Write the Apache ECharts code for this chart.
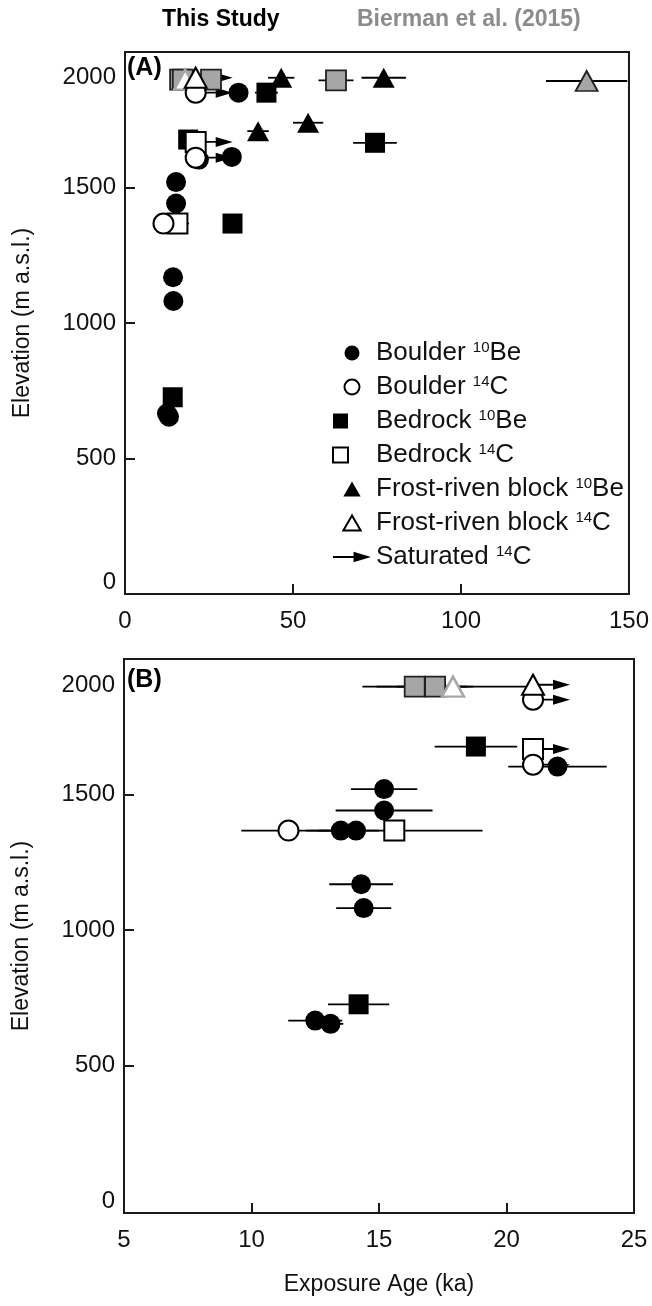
<!DOCTYPE html>
<html><head><meta charset="utf-8">
<script src="https://cdn.jsdelivr.net/npm/echarts@6/dist/echarts.min.js"></script>
<style>html,body{margin:0;padding:0;background:#fff}#c{width:652px;height:1306px}</style>
</head><body><div id="c"></div>
<script>
// ---- data: [age ka, elevation m, ±error ka] ----
const boulderBe = [[15.2,1520,1.3],[15.2,1441,1.9],[13.5,1367,0.9],[14.1,1367,0.9],[14.3,1169,1.25],[14.4,1081,1.08],[12.5,666,1.06],[13.1,654,0.5],[22.0,1603,1.93],[31.8,1613,2.0],[33.8,1850,2.0]];
const boulderC  = [[11.45,1367,1.85],[21.04,1850,0],[21.04,1610,0]];
const bedrockBe = [[14.2,726,1.2],[18.8,1677,1.62],[32.0,1367,1.5],[42.1,1850,3.4],[74.4,1665,6.5]];
const bedrockC  = [[15.6,1367,3.46],[21.04,1668,0]];
const frostBe   = [[46.5,1905,3.9],[77.0,1905,6.6],[39.6,1708,3.2],[54.5,1739,4.5]];
const frostC    = [[21.04,1905,0]];
const saturated = [[21.04,1905],[21.04,1850],[21.04,1668],[21.04,1610]];
// Bierman et al. (2015)
const biermanBedrockBe = [[16.4,1898,2.05],[17.2,1898,1.5],[25.6,1898,0.4],[62.8,1895,5.2]];
const biermanFrostBe   = [[137.4,1893,12.1]];
const biermanFrostC    = [[17.9,1898,3.0]];
// axes
const xLabelsA = [0,50,100,150];
const xLabelsB = [5,10,15,20,25];
const yLabels  = [0,500,1000,1500,2000];

const F = "'Liberation Sans', Arial, Helvetica, sans-serif";
const TXT = '#111';
const TRI = 'path://M9,0L18,15.6L0,15.6Z';
const ARROW = 'path://M0,4.1H20V0L37,5L20,10V5.9H0Z';

function errSeries(data, gi){
  return {type:'custom', xAxisIndex:gi, yAxisIndex:gi, z:1, silent:true,
    data: data.filter(d=>d[2]>0),
    renderItem(params, api){
      const x=api.value(0), y=api.value(1), e=api.value(2);
      const p1=api.coord([x-e,y]), p2=api.coord([x+e,y]);
      const cs=params.coordSys;
      const x1=Math.max(p1[0],cs.x), x2=Math.min(p2[0],cs.x+cs.width);
      if (x2<=x1 || p1[1]<cs.y || p1[1]>cs.y+cs.height) return;
      return {type:'line', shape:{x1:x1,y1:p1[1],x2:x2,y2:p1[1]}, style:{stroke:'#000', lineWidth:1.8}};
    }};
}
function sc(name, data, gi, symbol, size, style, z){
  return {type:'scatter', name:name, xAxisIndex:gi, yAxisIndex:gi, z:z,
    data:data.map(d=>[d[0],d[1]]), symbol:symbol, symbolSize:size,
    itemStyle:Object.assign({opacity:1}, style),
    emphasis:{disabled:true}};
}
function panel(gi){
  const blk={color:'#000', borderWidth:0};
  const open={color:'#fff', borderColor:'#000', borderWidth:2};
  const gray={color:'#a6a6a6', borderColor:'#222', borderWidth:1.8};
  const lgray={color:'#fff', borderColor:'#a8a8a8', borderWidth:2.5};
  const all=[boulderBe,boulderC,bedrockBe,bedrockC,frostBe,frostC,biermanBedrockBe,biermanFrostBe,biermanFrostC];
  const s = all.map(d=>errSeries(d,gi));
  s.push({type:'scatter', name:'Saturated 14C', xAxisIndex:gi, yAxisIndex:gi, z:2,
    data:saturated, symbol:ARROW, symbolSize:[37,10], symbolOffset:[18.5,0],
    itemStyle:{color:'#000', opacity:1}, emphasis:{disabled:true}});
  s.push(sc('Bierman Be',biermanBedrockBe,gi,'rect',20,gray,3));
  s.push(sc('Bierman FBe',biermanFrostBe,gi,'triangle',[22,20],gray,3));
  s.push(sc('Bierman FC',biermanFrostC,gi,'triangle',[22,20],lgray,3));
  s.push(sc('Boulder 10Be',boulderBe,gi,'circle',20,blk,4));
  s.push(sc('Bedrock 10Be',bedrockBe,gi,'rect',20,blk,4));
  s.push(sc('Frost-riven block 10Be',frostBe,gi,'triangle',[22,20],blk,4));
  s.push(sc('Bedrock 14C',bedrockC,gi,'rect',20,open,5));
  s.push(sc('Boulder 14C',boulderC,gi,'circle',20,open,5));
  s.push(sc('Frost-riven block 14C',frostC,gi,'triangle',[22,20],open,6));
  return s;
}
const axLine={show:true, onZero:false, lineStyle:{color:'#1a1a1a', width:2}};
const lab={fontSize:24, fontFamily:F, color:TXT};
function xAxis(gi, min, max, labels, name){
  return {type:'value', gridIndex:gi, min:min, max:max, splitLine:{show:false},
    axisLine:axLine,
    axisTick:{show:true, inside:true, length:10, lineStyle:{color:'#1a1a1a',width:2}, customValues:labels.slice(1,-1)},
    axisLabel:Object.assign({margin:15, customValues:labels}, lab),
    name:name||'', nameLocation:'middle', nameGap:60, nameTextStyle:{fontSize:23, fontFamily:F, color:TXT}};
}
function yAxis(gi, min, topPad, zeroPad){
  return {type:'value', gridIndex:gi, min:min, max:2000, splitLine:{show:false},
    axisLine:axLine,
    axisTick:{show:true, inside:true, length:10, lineStyle:{color:'#1a1a1a',width:2}, customValues:[500,1000,1500]},
    axisLabel:Object.assign({margin:9, customValues:yLabels,
      formatter:v=> v===2000 ? '{t|2000}' : (v===0 ? '{b|0}' : String(v)),
      rich:{t:Object.assign({padding:[topPad,0,0,0]},lab), b:Object.assign({padding:[0,0,zeroPad,0]},lab)}}, lab),
    name:'Elevation (m a.s.l.)', nameLocation:'middle', nameGap:91,
    nameTextStyle:{fontSize:23, fontFamily:F, color:TXT}};
}
const chart = echarts.init(document.getElementById('c'), null, {renderer:'canvas'});
chart.setOption({
  animation:false,
  backgroundColor:'#fff',
  textStyle:{fontFamily:F},
  title:[
    {text:'This Study', left:162, top:8, padding:0, textStyle:{fontSize:23, fontWeight:'bold', color:'#000', fontFamily:F}},
    {text:'Bierman et al. (2015)', left:357, top:8, padding:0, textStyle:{fontSize:23, fontWeight:'bold', color:'#8c8c8c', fontFamily:F}},
    {text:'(A)', left:127, top:56, padding:0, textStyle:{fontSize:25, fontWeight:'bold', color:'#000', fontFamily:F}},
    {text:'(B)', left:127, top:668, padding:0, textStyle:{fontSize:25, fontWeight:'bold', color:'#000', fontFamily:F}}
  ],
  grid:[
    {left:125, top:52, width:511, height:542, show:true, borderColor:'#1a1a1a', borderWidth:2, containLabel:false},
    {left:124, top:659, width:510, height:554, show:true, borderColor:'#1a1a1a', borderWidth:2, containLabel:false}
  ],
  xAxis:[ xAxis(0,0,150,xLabelsA,''), xAxis(1,5,25,xLabelsB,'Exposure Age (ka)') ],
  yAxis:[ yAxis(0,0,50,24), yAxis(1,-44,52,0) ],
  legend:{orient:'vertical', left:332, top:340, itemWidth:38, itemHeight:15, itemGap:8, padding:0,
    selectedMode:false,
    data:[{name:'Boulder 10Be',icon:'circle'},{name:'Boulder 14C',icon:'circle'},
          {name:'Bedrock 10Be',icon:'square'},{name:'Bedrock 14C',icon:'square'},
          {name:'Frost-riven block 10Be',icon:TRI},{name:'Frost-riven block 14C',icon:TRI},
          {name:'Saturated 14C',icon:ARROW}],
    formatter:function(name){
      const m=name.match(/^(.*) (\d+)(\D+)$/);
      return '{n|'+m[1]+' }{s|'+m[2]+'}{n|'+m[3]+'}';
    },
    textStyle:{rich:{
      n:{fontSize:26, lineHeight:26, fontFamily:F, color:TXT},
      s:{fontSize:15, lineHeight:15, padding:[0,0,11,0], fontFamily:F, color:TXT}
    }}
  },
  series: panel(0).concat(panel(1))
});
</script>
</body></html>
